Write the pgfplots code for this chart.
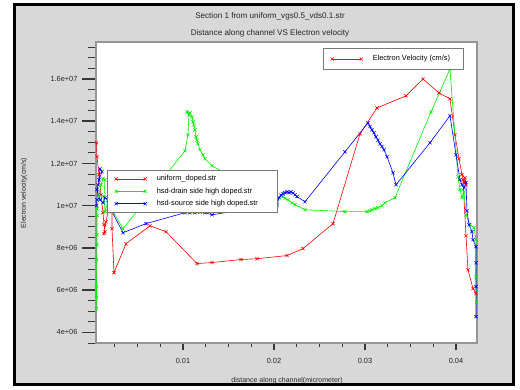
\documentclass[border=0pt]{standalone}
\usepackage{fontspec}
\setmainfont{Liberation Sans}
\usepackage{pgfplots}
\pgfplotsset{compat=1.18}
\definecolor{bg}{RGB}{216,216,216}
\definecolor{framegray}{RGB}{150,150,150}
\definecolor{tickdark}{RGB}{55,55,55}
\definecolor{lime}{RGB}{0,240,0}
\begin{document}
\begin{tikzpicture}
\fill[white] (0pt,0pt) rectangle (520pt,389pt);
\fill[black] (13pt,3pt) rectangle (515pt,386pt);
\fill[bg] (16pt,6pt) rectangle (512pt,383pt);
\node[font=\fontsize{8.1}{9}\selectfont, text=black!85] at (270pt,373pt) {Section 1 from uniform\_vgs0.5\_vds0.1.str};
\node[font=\fontsize{8.1}{9}\selectfont, text=black!85] at (270pt,356pt) {Distance along channel VS Electron velocity};
\node[font=\fontsize{7}{8}\selectfont, text=black!85] at (287pt,8pt) {distance along channel(micrometer)};
\node[font=\fontsize{7}{8}\selectfont, text=black!85, rotate=90] at (24pt,196pt) {Electron velocity(cm/s)};
\begin{axis}[
  at={(96pt,46pt)}, anchor=south west,
  scale only axis, width=381pt, height=301pt,
  xmin=0.00044, xmax=0.04231, ymin=3.5e6, ymax=1.775e7,
  axis background/.style={fill=white},
  axis line style={framegray, line width=1.5pt},
  tick pos=left, tick align=outside,
  scaled ticks=false,
  xtick={0.01,0.02,0.03,0.04}, xticklabels={0.01,0.02,0.03,0.04},
  ytick={4e6,6e6,8e6,1e7,1.2e7,1.4e7,1.6e7},
  yticklabels={4e+06,6e+06,8e+06,1e+07,1.2e+07,1.4e+07,1.6e+07},
  minor xtick={0.0025,0.005,0.0075,0.0125,0.015,0.0175,0.0225,0.025,0.0275,0.0325,0.035,0.0375,0.0425},
  minor ytick={3.5e6,4.5e6,5e6,5.5e6,6.5e6,7e6,7.5e6,8.5e6,9e6,9.5e6,1.05e7,1.1e7,1.15e7,1.25e7,1.3e7,1.35e7,1.45e7,1.5e7,1.55e7,1.65e7,1.7e7,1.75e7},
  major tick length=14pt, minor tick length=8pt,
  xtick style={/pgfplots/major tick length=7pt, /pgfplots/minor tick length=4pt},
  major tick style={line width=1.5pt, tickdark},
  minor tick style={line width=1pt, tickdark},
  ticklabel style={font=\fontsize{7.4}{8}\selectfont, text=black!85},
  xticklabel style={yshift=2pt},
  yticklabel style={xshift=-1pt},
  legend style={at={(0.029,0.575)}, anchor=north west, draw=framegray!80!black, line width=1.2pt,
    fill=white, font=\fontsize{7.4}{8}\selectfont, inner xsep=7pt, inner ysep=3pt, row sep=1.5pt,
    /tikz/every odd column/.append style={column sep=8pt}},
  legend cell align=left,
  legend image code/.code={\draw[#1] plot coordinates {(0pt,0pt) (29pt,0pt)};},
  mark size=2.2pt,
]
\addplot[red, line width=0.6pt, mark=x] coordinates {
(0.000495,1.298e7) (0.000549,1.232e7) (0.000769,1.147e7) (0.000989,1.052e7)
(0.001209,9.67e6) (0.001319,9.10e6) (0.001429,8.77e6) (0.001319,8.68e6)
(0.001538,9.24e6) (0.001758,9.72e6) (0.002088,9.95e6) (0.002198,9.72e6)
(0.002198,8.91e6) (0.002418,6.83e6) (0.003736,8.20e6) (0.006374,9.05e6)
(0.008132,8.77e6) (0.011538,7.26e6) (0.013187,7.31e6) (0.016374,7.45e6)
(0.018132,7.49e6) (0.021429,7.64e6) (0.023187,7.97e6) (0.026484,9.15e6)
(0.029451,1.340e7) (0.031319,1.463e7) (0.034505,1.520e7) (0.036374,1.600e7)
(0.038132,1.534e7) (0.039341,1.506e7) (0.039890,1.336e7) (0.040330,1.222e7)
(0.040659,1.147e7) (0.040879,1.113e7) (0.040989,1.132e7) (0.041099,1.099e7)
(0.040769,1.123e7) (0.041099,8.58e6) (0.041319,6.97e6) (0.041868,6.08e6)
(0.042198,5.84e6)
};
\addlegendentry{\makebox[112pt][l]{uniform\_doped.str}}
\addplot[lime, line width=0.6pt, mark=x] coordinates {
(0.000473,5.13e6) (0.000495,5.65e6) (0.000495,6.17e6) (0.000516,7.45e6)
(0.000549,8.16e6) (0.000549,8.63e6) (0.000549,9.53e6) (0.000549,9.86e6)
(0.000769,1.052e7) (0.000989,1.099e7) (0.001209,1.128e7) (0.001429,1.123e7)
(0.001319,1.043e7) (0.001429,9.72e6) (0.001758,1.024e7) (0.001868,9.95e6)
(0.002198,9.81e6) (0.003407,8.91e6) (0.010220,1.260e7) (0.010549,1.336e7)
(0.010659,1.430e7) (0.010440,1.444e7) (0.010769,1.440e7) (0.010989,1.421e7)
(0.011099,1.397e7) (0.011209,1.380e7) (0.011319,1.359e7) (0.011429,1.326e7)
(0.011538,1.310e7) (0.011648,1.293e7) (0.011868,1.265e7) (0.012198,1.241e7)
(0.012418,1.222e7) (0.013187,1.189e7) (0.015934,1.123e7) (0.019341,1.033e7)
(0.020330,1.000e7) (0.020549,1.038e7) (0.020989,1.043e7) (0.021209,1.035e7)
(0.021538,1.028e7) (0.021978,1.014e7) (0.022308,1.005e7) (0.023407,9.81e6)
(0.027802,9.72e6) (0.030220,9.72e6) (0.030549,9.76e6) (0.030769,9.81e6)
(0.031099,9.86e6) (0.031429,9.91e6) (0.031868,1.000e7) (0.032198,1.014e7)
(0.033297,1.038e7) (0.037253,1.444e7) (0.039341,1.648e7) (0.040220,1.137e7)
(0.040440,1.076e7) (0.040659,1.038e7) (0.040879,1.066e7) (0.041099,9.57e6)
(0.041538,9.10e6) (0.041978,8.96e6) (0.042198,8.39e6) (0.042198,6.64e6)
(0.042253,5.41e6)
};
\addlegendentry{\makebox[112pt][l]{hsd-drain side high doped.str}}
\addplot[blue, line width=0.6pt, mark=x] coordinates {
(0.000495,1.000e7) (0.000549,1.028e7) (0.000659,1.099e7) (0.000879,1.175e7)
(0.001099,1.161e7) (0.000769,1.123e7) (0.000549,1.076e7) (0.000879,1.028e7)
(0.001209,1.014e7) (0.001429,1.038e7) (0.001758,1.028e7) (0.001978,1.043e7)
(0.002198,1.028e7) (0.002308,1.005e7) (0.001978,9.91e6) (0.003407,8.72e6)
(0.005934,9.15e6) (0.010220,9.67e6) (0.010495,9.72e6) (0.010769,9.67e6)
(0.011044,9.74e6) (0.011319,9.67e6) (0.011593,9.72e6) (0.011868,9.69e6)
(0.012143,9.74e6) (0.012418,9.67e6) (0.013187,9.57e6) (0.015934,9.76e6)
(0.020330,1.005e7) (0.020549,1.038e7) (0.020769,1.050e7) (0.020989,1.057e7)
(0.021209,1.062e7) (0.021429,1.066e7) (0.021648,1.062e7) (0.021868,1.066e7)
(0.022088,1.060e7) (0.022308,1.052e7) (0.022527,1.043e7) (0.023407,1.019e7)
(0.027802,1.255e7) (0.030330,1.392e7) (0.030549,1.375e7) (0.030769,1.359e7)
(0.030989,1.345e7) (0.031209,1.326e7) (0.031429,1.310e7) (0.031648,1.293e7)
(0.031868,1.280e7) (0.032088,1.265e7) (0.032418,1.232e7) (0.033077,1.156e7)
(0.033407,1.099e7) (0.037143,1.298e7) (0.039341,1.426e7) (0.040000,1.241e7)
(0.040440,1.123e7) (0.040659,1.099e7) (0.040879,1.085e7) (0.041099,1.109e7)
(0.041209,9.76e6) (0.041429,9.10e6) (0.041758,8.77e6) (0.041868,8.39e6)
(0.042198,8.06e6) (0.042198,7.30e6) (0.042198,6.17e6) (0.042198,4.75e6)
};
\addlegendentry{\makebox[112pt][l]{hsd-source side high doped.str}}
\end{axis}
\begin{axis}[
  at={(96pt,46pt)}, anchor=south west,
  scale only axis, width=381pt, height=301pt,
  hide axis, xmin=0, xmax=1, ymin=0, ymax=1,
  legend style={at={(0.596,0.98)}, anchor=north west, draw=framegray!80!black, line width=1.2pt,
    fill=white, font=\fontsize{7.4}{8}\selectfont, inner xsep=7pt, inner ysep=5pt,
    /tikz/every odd column/.append style={column sep=8pt}},
  legend cell align=left,
  legend image code/.code={\draw[#1] plot coordinates {(0pt,0pt) (29pt,0pt)};},
  mark size=2.2pt,
]
\addlegendimage{red, line width=0.6pt, mark=x}
\addlegendentry{\makebox[82pt][l]{Electron Velocity (cm/s)}}
\end{axis}
\end{tikzpicture}
\end{document}
